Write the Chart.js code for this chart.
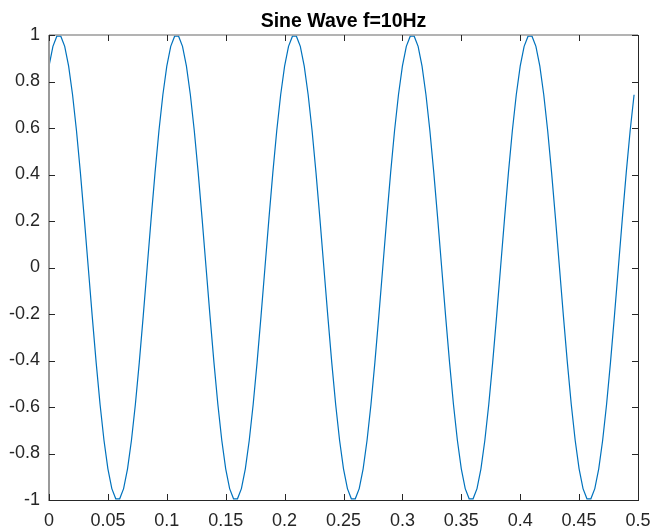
<!DOCTYPE html>
<html>
<head>
<meta charset="utf-8">
<script src="https://cdn.jsdelivr.net/npm/chart.js@4.4.1/dist/chart.umd.min.js"></script>
<style>
  html, body { margin: 0; padding: 0; background: #fff; }
</style>
</head>
<body>
<canvas id="sine-chart" width="652" height="526"></canvas>
<script>
// samples: one period is 30 samples (flat tops ~0.0033 s wide)
const sampleRate = 300;
const amplitude = [
  0.866, 0.951, 0.995, 0.995, 0.951, 0.866, 0.743, 0.588, 0.407, 0.208, 0, -0.208, -0.407, -0.588, -0.743,
  -0.866, -0.951, -0.995, -0.995, -0.951, -0.866, -0.743, -0.588, -0.407, -0.208, 0, 0.208, 0.407, 0.588, 0.743,
  0.866, 0.951, 0.995, 0.995, 0.951, 0.866, 0.743, 0.588, 0.407, 0.208, 0, -0.208, -0.407, -0.588, -0.743,
  -0.866, -0.951, -0.995, -0.995, -0.951, -0.866, -0.743, -0.588, -0.407, -0.208, 0, 0.208, 0.407, 0.588, 0.743,
  0.866, 0.951, 0.995, 0.995, 0.951, 0.866, 0.743, 0.588, 0.407, 0.208, 0, -0.208, -0.407, -0.588, -0.743,
  -0.866, -0.951, -0.995, -0.995, -0.951, -0.866, -0.743, -0.588, -0.407, -0.208, 0, 0.208, 0.407, 0.588, 0.743,
  0.866, 0.951, 0.995, 0.995, 0.951, 0.866, 0.743, 0.588, 0.407, 0.208, 0, -0.208, -0.407, -0.588, -0.743,
  -0.866, -0.951, -0.995, -0.995, -0.951, -0.866, -0.743, -0.588, -0.407, -0.208, 0, 0.208, 0.407, 0.588, 0.743,
  0.866, 0.951, 0.995, 0.995, 0.951, 0.866, 0.743, 0.588, 0.407, 0.208, 0, -0.208, -0.407, -0.588, -0.743,
  -0.866, -0.951, -0.995, -0.995, -0.951, -0.866, -0.743, -0.588, -0.407, -0.208, 0, 0.208, 0.407, 0.588, 0.743
];
const xTicks = [0, 0.05, 0.1, 0.15, 0.2, 0.25, 0.3, 0.35, 0.4, 0.45, 0.5];
const yTicks = [-1, -0.8, -0.6, -0.4, -0.2, 0, 0.2, 0.4, 0.6, 0.8, 1];
const titleText = "Sine Wave f=10Hz";

const points = amplitude.map((v, i) => ({ x: i / sampleRate, y: v }));

const tickFont = { family: "'Liberation Sans', Arial, Helvetica, sans-serif", size: 18 };
const axisColor = "#262626";

// matlab style box with inward ticks + title centred over the axes
const boxPlugin = {
  id: "box",
  afterDraw(chart) {
    const { ctx, chartArea: a, scales } = chart;
    const l = Math.round(a.left), r = Math.round(a.right);
    const t = Math.round(a.top), b = Math.round(a.bottom);
    ctx.save();

    // right + bottom edges dark
    ctx.lineWidth = 1;
    ctx.strokeStyle = axisColor;
    ctx.beginPath();
    ctx.moveTo(l, b + 0.5); ctx.lineTo(r + 1, b + 0.5);
    ctx.moveTo(r + 0.5, t); ctx.lineTo(r + 0.5, b + 1);
    ctx.stroke();

    // left + top edges look lighter/wider in the original
    ctx.strokeStyle = "#9a9a9a";
    ctx.lineWidth = 2;
    ctx.beginPath();
    ctx.moveTo(l, t); ctx.lineTo(l, b + 1);
    ctx.stroke();
    ctx.lineWidth = 1.5;
    ctx.beginPath();
    ctx.moveTo(l, t); ctx.lineTo(r, t);
    ctx.stroke();

    ctx.lineWidth = 1;
    ctx.strokeStyle = axisColor;
    ctx.beginPath();
    xTicks.forEach((v) => {
      const px = Math.round(scales.x.getPixelForValue(v)) + 0.5;
      ctx.moveTo(px, b); ctx.lineTo(px, b - 6);
      ctx.moveTo(px, t); ctx.lineTo(px, t + 6);
    });
    yTicks.forEach((v) => {
      const py = Math.round(scales.y.getPixelForValue(v)) + 0.5;
      ctx.moveTo(l, py); ctx.lineTo(l + 6, py);
      ctx.moveTo(r, py); ctx.lineTo(r - 6, py);
    });
    ctx.stroke();

    ctx.fillStyle = "#000";
    ctx.font = "bold 19.5px 'Liberation Sans', Arial, Helvetica, sans-serif";
    ctx.textAlign = "center";
    ctx.textBaseline = "alphabetic";
    ctx.fillText(titleText, (a.left + a.right) / 2, 27);
    ctx.restore();
  }
};

const data = {
  datasets: [
    {
      label: "sine",
      data: points,
      borderColor: "#0072BD",
      borderWidth: 1.2,
      pointRadius: 0,
      tension: 0,
      fill: false
    }
  ]
};

const config = {
  type: "line",
  data: data,
  options: {
    responsive: false,
    animation: false,
    layout: { padding: { top: 35, right: 14, left: 0, bottom: 0 } },
    plugins: {
      legend: { display: false },
      tooltip: { enabled: false }
    },
    scales: {
      x: {
        type: "linear",
        min: 0,
        max: 0.5,
        grid: { display: false, drawTicks: false },
        border: { display: false },
        afterBuildTicks: (s) => { s.ticks = xTicks.map((v) => ({ value: v })); },
        afterFit: (s) => {
          s.height = 26;
          s.paddingLeft = 0;
          s.paddingRight = 0;
        },
        ticks: {
          font: tickFont,
          color: axisColor,
          padding: 10,
          maxRotation: 0,
          autoSkip: false,
          callback: (v) => String(v)
        }
      },
      y: {
        type: "linear",
        min: -1,
        max: 1,
        grid: { display: false, drawTicks: false },
        border: { display: false },
        afterBuildTicks: (s) => { s.ticks = yTicks.map((v) => ({ value: v })); },
        afterFit: (s) => {
          s.width = 49;
          s.paddingTop = 0;
          s.paddingBottom = 0;
        },
        ticks: {
          font: tickFont,
          color: axisColor,
          padding: 9,
          autoSkip: false,
          callback: (v) => String(v)
        }
      }
    }
  },
  plugins: [boxPlugin]
};

let ctx = document.getElementById("sine-chart");
const sineChart = new Chart(ctx, config);
</script>
</body>
</html>
